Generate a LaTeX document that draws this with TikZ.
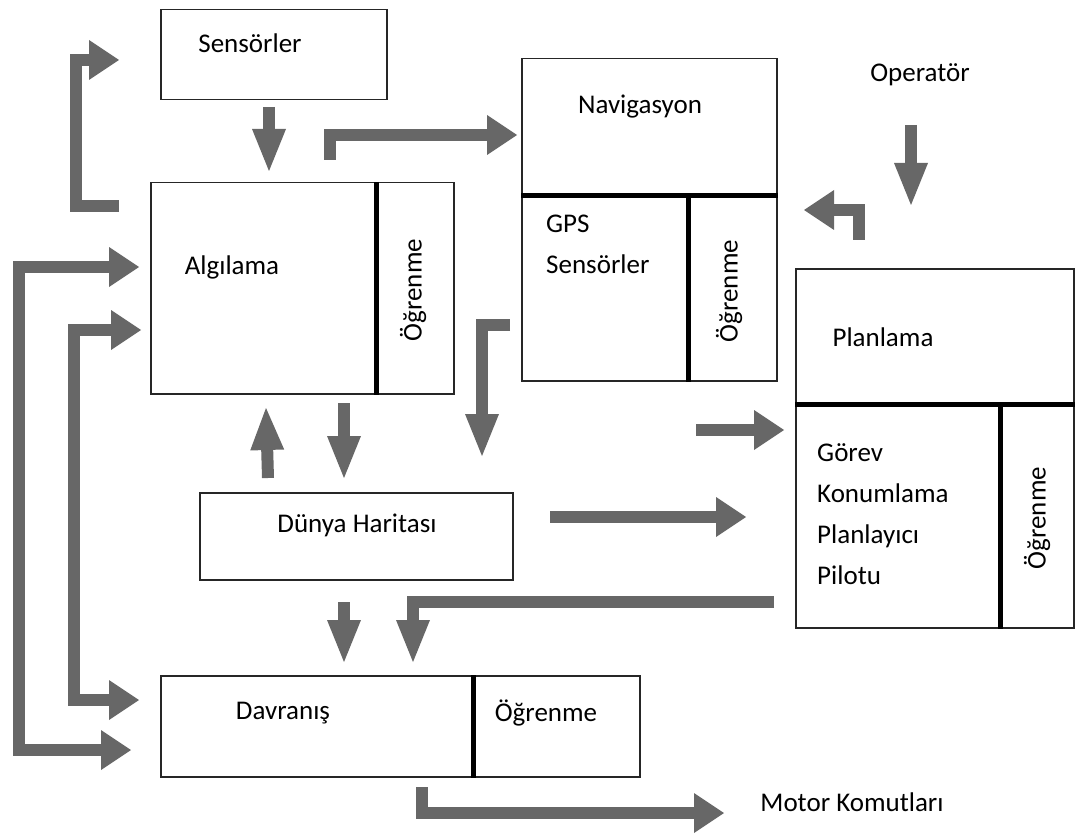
\documentclass[tikz,border=0pt]{standalone}
\usepackage{fontspec}
\setmainfont{Carlito}
\usetikzlibrary{arrows.meta}
\definecolor{arrowgray}{RGB}{103,103,103}

\begin{document}
\begin{tikzpicture}[x=1pt,y=-1pt]
\tikzset{
  box/.style={rectangle,draw=black!85,line width=1.5pt,anchor=north west,inner sep=0pt},
  divider/.style={line width=5pt,black},
  txt/.style={inner sep=0pt,font=\fontsize{27}{41}\selectfont},
  flow/.style={draw=arrowgray,line width=12pt,-{Triangle[length=30pt,width=40pt,line width=0pt]}},
  vflow/.style={draw=arrowgray,line width=12pt,-{Triangle[length=42pt,width=34pt,line width=0pt]}},
  bothflow/.style={draw=arrowgray,line width=12pt,{Triangle[length=30pt,width=40pt,line width=0pt]}-{Triangle[length=30pt,width=40pt,line width=0pt]}}
}
\useasboundingbox (0,0) rectangle (1075,834);
\node[box,minimum width=226pt,minimum height=90pt] (b_sens) at (160,9) {};
\node[box,minimum width=225pt,minimum height=211pt] (b_alg) at (150,182) {};
\node[box,minimum width=78pt,minimum height=211pt] (b_algL) at (375,182) {};
\node[box,minimum width=255pt,minimum height=136pt] (b_nav) at (521,58) {};
\node[box,minimum width=166pt,minimum height=186pt] (b_navG) at (521,194) {};
\node[box,minimum width=89pt,minimum height=186pt] (b_navL) at (687,194) {};
\node[box,minimum width=278pt,minimum height=135pt] (b_plan) at (795,268) {};
\node[box,minimum width=204pt,minimum height=224pt] (b_planG) at (795,403) {};
\node[box,minimum width=74pt,minimum height=224pt] (b_planL) at (999,403) {};
\node[box,minimum width=313pt,minimum height=87pt] (b_dunya) at (199,492) {};
\node[box,minimum width=312pt,minimum height=101pt] (b_dav) at (160,675) {};
\node[box,minimum width=167pt,minimum height=101pt] (b_davL) at (472,675) {};
\draw[divider] (b_alg.north east) -- (b_alg.south east);
\draw[divider] (b_nav.south west) -- (b_nav.south east);
\draw[divider] (b_navG.north east) -- (b_navG.south east);
\draw[divider] (b_plan.south west) -- (b_plan.south east);
\draw[divider] (b_planG.north east) -- (b_planG.south east);
\draw[divider] (b_dav.north east) -- (b_dav.south east);
\node[txt] (t_sens) at (250,43) {Sensörler};
\node[txt] (t_alg) at (232,267) {Algılama};
\node[txt,rotate=90] (t_algL) at (413,290) {Öğrenme};
\node[txt] (t_nav) at (640,107) {Navigasyon};
\node[txt,anchor=west,align=left] (t_navG) at (546,244) {GPS\\Sensörler};
\node[txt,rotate=90] (t_navL) at (729,291) {Öğrenme};
\node[txt] (t_op) at (920,75) {Operatör};
\node[txt] (t_plan) at (883,337) {Planlama};
\node[txt,anchor=west,align=left] (t_planG) at (817,514) {Görev\\Konumlama\\Planlayıcı\\Pilotu};
\node[txt,rotate=90] (t_planL) at (1037,518) {Öğrenme};
\node[txt] (t_dunya) at (357,525) {Dünya Haritası};
\node[txt] (t_dav) at (283,713) {Davranış};
\node[txt] (t_davL) at (546,713) {Öğrenme};
\node[txt] (t_motor) at (852,802) {Motor Komutları};
\coordinate (c_s1) at (269,107);
\coordinate (c_s2) at (269,171);
\coordinate (c_tl1) at (119,206);
\coordinate (c_tl2) at (76,60);
\coordinate (c_tl3) at (119,60);
\coordinate (c_an1) at (330,160);
\coordinate (c_an2) at (517,135);
\coordinate (c_o1) at (139,267);
\coordinate (c_o2) at (19,750);
\coordinate (c_o3) at (131,750);
\coordinate (c_i1) at (141,330);
\coordinate (c_i2) at (74,700);
\coordinate (c_i3) at (139,700);
\coordinate (c_nd1) at (510,325);
\coordinate (c_nd2) at (482,456);
\coordinate (c_du1) at (268,478);
\coordinate (c_du2) at (266,408);
\coordinate (c_ad1) at (344,403);
\coordinate (c_ad2) at (344,478);
\coordinate (c_dd1) at (344,602);
\coordinate (c_dd2) at (344,662);
\coordinate (c_pd1) at (774,602);
\coordinate (c_pd2) at (413,662);
\coordinate (c_m1) at (422,787);
\coordinate (c_m2) at (724,813);
\coordinate (c_op1) at (911,125);
\coordinate (c_op2) at (911,205);
\coordinate (c_pn1) at (859,240);
\coordinate (c_pn2) at (804,210);
\coordinate (c_g1) at (696,430);
\coordinate (c_g2) at (784,430);
\coordinate (c_dg1) at (550,517);
\coordinate (c_dg2) at (746,517);
\draw[vflow] (c_s1) -- (c_s2);
\draw[flow] (c_tl1) -| (c_tl2) -- (c_tl3);
\draw[flow] (c_an1) |- (c_an2);
\draw[bothflow] (c_o1) -| (c_o2) -- (c_o3);
\draw[bothflow] (c_i1) -| (c_i2) -- (c_i3);
\draw[vflow] (c_nd1) -| (c_nd2);
\draw[vflow] (c_du1) -- (c_du2);
\draw[vflow] (c_ad1) -- (c_ad2);
\draw[vflow] (c_dd1) -- (c_dd2);
\draw[vflow] (c_pd1) -| (c_pd2);
\draw[flow] (c_m1) |- (c_m2);
\draw[vflow] (c_op1) -- (c_op2);
\draw[flow] (c_pn1) |- (c_pn2);
\draw[flow] (c_g1) -- (c_g2);
\draw[flow] (c_dg1) -- (c_dg2);
\end{tikzpicture}
\end{document}
